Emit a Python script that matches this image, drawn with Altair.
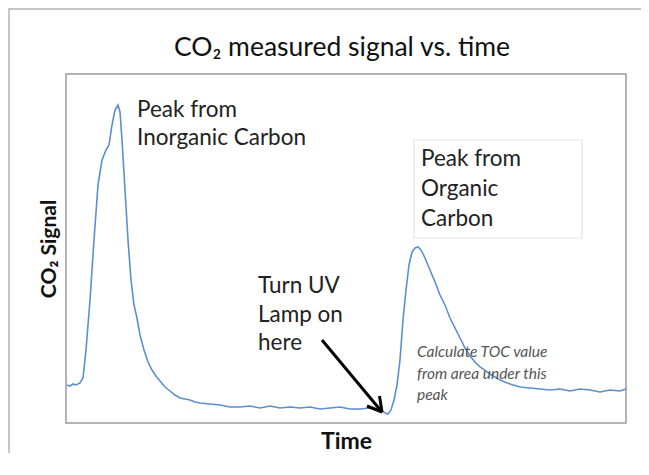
import altair as alt
import pandas as pd

# (arbitrary units: time along x, CO2 signal along y)
time = [1, 4, 7, 10, 14, 17, 20, 24, 28, 32, 36, 40, 43, 46, 49, 52, 54, 56, 59, 62,
        65, 68, 71, 74, 78, 82, 86, 90, 94, 99, 104, 109, 114, 119, 124, 129, 134, 144,
        154, 164, 174, 184, 194, 204, 214, 224, 234, 244, 254, 264, 274, 284, 294, 304,
        314, 319, 322, 325, 328, 331, 334, 337, 340, 343, 346, 349, 352, 355, 359, 364,
        369, 374, 379, 384, 389, 394, 399, 404, 409, 414, 424, 434, 444, 454, 464, 474,
        484, 494, 504, 514, 524, 534, 544, 554, 560]
signal = [38, 37, 39, 38, 40, 45, 73, 123, 183, 238, 263, 273, 278, 298, 313, 318, 311,
          283, 233, 183, 143, 118, 105, 88, 73, 61, 53, 47, 42, 36, 32, 28, 25, 24, 23, 21,
          20, 19, 18, 16, 16, 17, 15, 17, 15, 16, 15, 16, 14, 15, 16, 14, 14, 15, 13, 10, 9,
          13, 23, 38, 63, 103, 133, 158, 171, 175, 176, 173, 165, 153, 141, 128, 118, 105,
          95, 85, 75, 67, 61, 56, 49, 43, 39, 36, 35, 34, 33, 34, 32, 34, 33, 31, 33, 32, 34]

title_text = "CO\u2082 measured signal vs. time"
x_title = "Time"
y_title = "CO\u2082 Signal"
inorganic_lines = ["Peak from", "Inorganic Carbon"]
organic_lines = ["Peak from", "Organic", "Carbon"]
uv_lines = ["Turn UV", "Lamp on", "here"]
toc_lines = ["Calculate TOC value", "from area under this", "peak"]

FONT = "Lato"
W, H = 560, 349

df = pd.DataFrame({"time": time, "signal": signal})
one = alt.Data(values=[{"a": 1}])

line = alt.Chart(df).mark_line(color="#5b8fd0", strokeWidth=1.6).encode(
    x=alt.X("time:Q", scale=alt.Scale(domain=[0, W], nice=False, zero=False),
            axis=alt.Axis(title=x_title, domain=False, ticks=False, labels=False, grid=False,
                          titleFont=FONT, titleFontSize=23, titleFontWeight="bold",
                          titleColor="#111", titleBaseline="alphabetic", titleY=25)),
    y=alt.Y("signal:Q", scale=alt.Scale(domain=[0, H], nice=False, zero=False),
            axis=alt.Axis(title=y_title, domain=False, ticks=False, labels=False, grid=False,
                          titleFont=FONT, titleFontSize=21, titleFontWeight="bold",
                          titleColor="#111", titleBaseline="alphabetic", titleX=-11)),
)

# outer figure frame (only its top and left edges fall inside the picture)
frame = alt.Chart(one).mark_rect(fill="transparent", stroke="#b4b4b4", strokeWidth=1.5).encode(
    x=alt.value(-57), x2=alt.value(700), y=alt.value(-65), y2=alt.value(600))

org_box = alt.Chart(one).mark_rect(fill="white", stroke="#e4e4e4", strokeWidth=1.2).encode(
    x=alt.value(348), x2=alt.value(516), y=alt.value(66), y2=alt.value(164))


def text_block(lines, x, y0, dy, **kw):
    layers = []
    for i, t in enumerate(lines):
        layers.append(alt.Chart(one).mark_text(text=t, align="left", baseline="alphabetic",
                                               font=FONT, **kw).encode(
            x=alt.value(x), y=alt.value(y0 + i * dy)))
    return layers


title = alt.Chart(one).mark_text(text=title_text, align="center", baseline="alphabetic",
                                 font=FONT, fontSize=26.5, color="#111").encode(
    x=alt.value(276), y=alt.value(-18))

texts = []
texts += text_block(inorganic_lines, 71, 43, 28, fontSize=22.5, color="#222")
texts += text_block(organic_lines, 355, 92, 30, fontSize=22.5, color="#222")
texts += text_block(uv_lines, 192, 219, 28.5, fontSize=22.5, color="#222")
texts += text_block(toc_lines, 351, 283, 21.5, fontSize=15.5, fontStyle="italic", color="#555")

arrow_style = dict(color="#000", strokeWidth=3)
arrow = [
    alt.Chart(one).mark_rule(**arrow_style).encode(
        x=alt.value(256), y=alt.value(266), x2=alt.value(316), y2=alt.value(338)),
    alt.Chart(one).mark_rule(**arrow_style).encode(
        x=alt.value(301), y=alt.value(332), x2=alt.value(316), y2=alt.value(338)),
    alt.Chart(one).mark_rule(**arrow_style).encode(
        x=alt.value(313.5), y=alt.value(322), x2=alt.value(316), y2=alt.value(338)),
]

chart = alt.layer(frame, org_box, line, title, *texts, *arrow).properties(
    width=W, height=H,
    autosize=alt.AutoSizeParams(type="none"),
    padding={"left": 58, "top": 66, "right": 15, "bottom": 30},
).configure_view(stroke="#9a9a9a", strokeWidth=1.5)

chart.save("out.html", embed_options={"renderer": "svg", "actions": False})
